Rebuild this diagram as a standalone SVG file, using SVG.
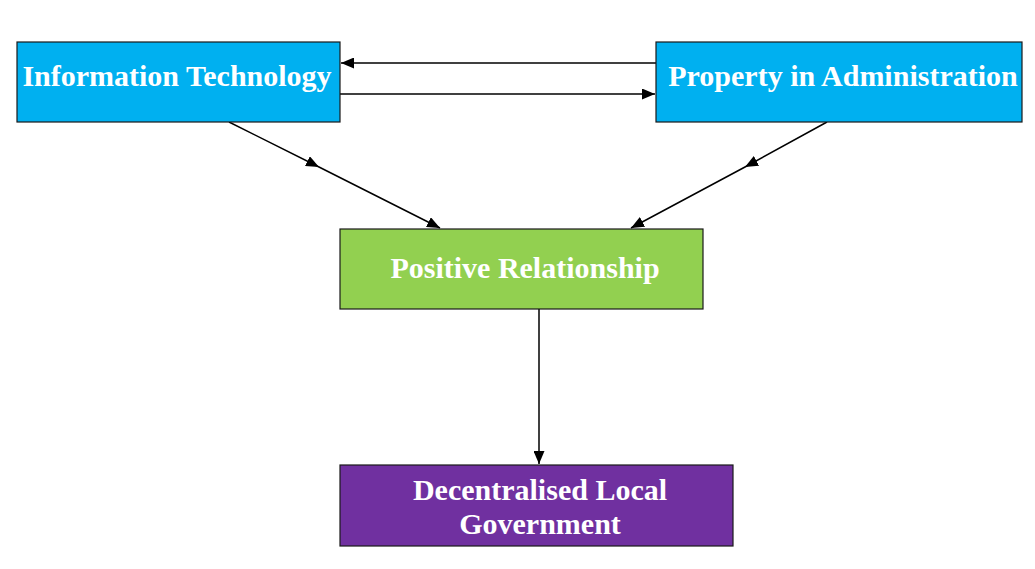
<svg xmlns="http://www.w3.org/2000/svg" width="1035" height="569" viewBox="0 0 1035 569">
<defs>
<marker id="ah" viewBox="0 0 13 11" refX="13" refY="5.5" markerWidth="13" markerHeight="11" markerUnits="userSpaceOnUse" orient="auto">
<path d="M0,0 L13,5.5 L0,11 Z" fill="#000"/>
</marker>
</defs>
<style>
.box{stroke:#1a1a1a;stroke-width:1.2}
.lbl{font-family:"Liberation Serif","Times New Roman",serif;font-weight:bold;font-size:30px;fill:#fff;text-anchor:middle}
.con{fill:none;stroke:#000;stroke-width:1.5}
</style>
<rect width="1035" height="569" fill="#fff"/>
<g id="connectors">
<line class="con" x1="656" y1="63" x2="341" y2="63" marker-end="url(#ah)"/>
<line class="con" x1="340" y1="94" x2="655" y2="94" marker-end="url(#ah)"/>
<polyline class="con" points="229,122 319,167 440,228" marker-mid="url(#ah)" marker-end="url(#ah)"/>
<polyline class="con" points="827,122 745,167 631,228" marker-mid="url(#ah)" marker-end="url(#ah)"/>
<line class="con" x1="539" y1="309" x2="539" y2="464" marker-end="url(#ah)"/>
</g>
<g id="node-it">
<rect class="box" x="17" y="42" width="323" height="80" fill="#00B0F0"/>
<text class="lbl" x="177" y="86">Information Technology</text>
</g>
<g id="node-pia">
<rect class="box" x="656" y="42" width="366" height="80" fill="#00B0F0"/>
<text class="lbl" x="843" y="86">Property in Administration</text>
</g>
<g id="node-pr">
<rect class="box" x="340" y="229" width="363" height="80" fill="#92D050"/>
<text class="lbl" x="525" y="278">Positive Relationship</text>
</g>
<g id="node-dlg">
<rect class="box" x="340" y="465" width="393" height="81" fill="#7030A0"/>
<text class="lbl" x="540" y="500">Decentralised Local</text>
<text class="lbl" x="540" y="534">Government</text>
</g>
</svg>
